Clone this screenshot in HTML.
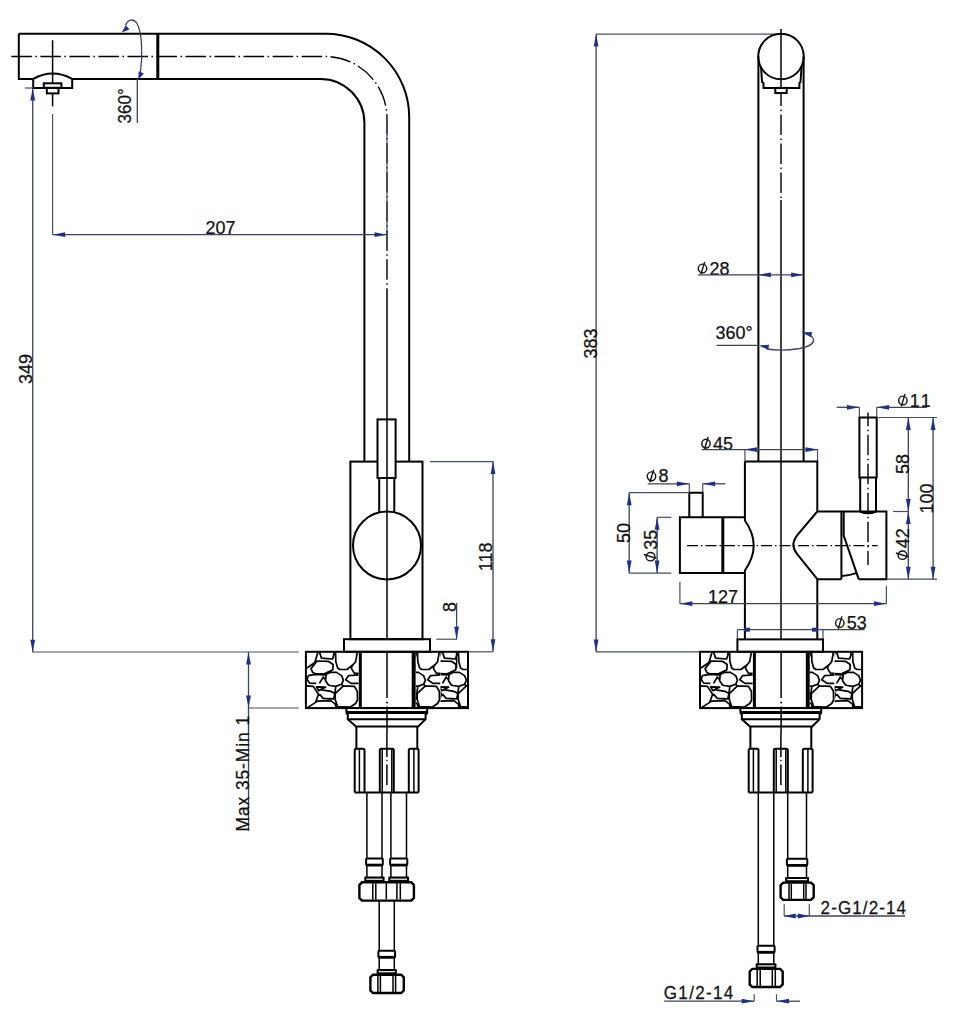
<!DOCTYPE html>
<html><head><meta charset="utf-8">
<style>
html,body{margin:0;padding:0;background:#fff;width:955px;height:1031px;overflow:hidden}
svg{display:block}
.k{stroke:#000;stroke-width:2;fill:none}
.k1{stroke:#000;stroke-width:1.5;fill:none}
.kt{stroke:#000;stroke-width:3;fill:none}
.c{stroke:#000;stroke-width:1.4;fill:none;stroke-dasharray:20.5 3.5 1.5 3.53}
.cs{stroke:#000;stroke-width:1.4;fill:none;stroke-dasharray:11 3 1.5 3}
.d{stroke:#3c435e;stroke-width:1.3;fill:none}
.e{stroke:#454f66;stroke-width:1.2;fill:none}
.ah{fill:#1f3088;stroke:none}
.st{stroke:#000;stroke-width:1.7;fill:none;stroke-linejoin:round}
.t{font-family:"Liberation Sans",sans-serif;fill:#111;stroke:#111;stroke-width:0.25}
.ph{stroke:#111;stroke-width:1.4;fill:none}
</style></head><body>
<svg width="955" height="1031" viewBox="0 0 955 1031">

<path class="k" d="M18.8,33.7 L325.4,33.7 A83.6,83.6 0 0 1 409.2,117.3 L409.2,461.6"/>
<path class="k" d="M72.2,78.9 L320.4,78.9 A44,44 0 0 1 364.4,122.9 L364.4,461.6"/>
<path class="k" d="M18.8,33.7 L18.8,78.9 L33.2,78.9"/>
<line class="kt" x1="157.8" y1="33.7" x2="157.8" y2="78.9"/>
<path class="c" style="stroke-dashoffset:-0.85" d="M10.5,56.5 L325,56.5 A62,62 0 0 1 387,118.5 L387,290"/>
<line class="k1" x1="387" y1="290" x2="387" y2="639"/>
<path class="k" d="M33.2,78.9 Q52.6,68.1 72.2,78.9 L72.2,87.9 L33.2,87.9 Z"/>
<rect class="k" x="43.8" y="83.3" width="17.6" height="4.6"/>
<rect class="k" x="46.8" y="87.9" width="11.7" height="5.5"/>
<line class="k1" x1="52.6" y1="40.2" x2="52.6" y2="83.3"/>
<line class="k1" x1="52.6" y1="93.4" x2="52.6" y2="106.5"/>
<line class="e" x1="52.6" y1="113.9" x2="52.6" y2="234.7"/>
<line class="e" x1="387" y1="125" x2="387" y2="234.7"/>
<path class="d" d="M125.5,25.5 C127.5,20 133,17.5 137,23.5 C142,32 143,55 140.3,74"/>
<path class="ah" d="M121.60,32.50 L125.86,25.17 L129.50,29.43 Z"/>
<path class="ah" d="M138.20,79.80 L138.72,71.34 L143.88,73.51 Z"/>
<line class="d" x1="137.3" y1="79" x2="137.3" y2="123"/>
<text class="t" transform="translate(131,123.5) rotate(-90) scale(0.92,1)" font-size="18.5">360°</text>
<line class="d" x1="52.6" y1="234.7" x2="387" y2="234.7"/>
<path class="ah" d="M52.60,234.70 L65.10,232.30 L65.10,237.10 Z"/>
<path class="ah" d="M387.00,234.70 L374.50,237.10 L374.50,232.30 Z"/>
<text class="t" transform="translate(205.5,234) scale(0.97,1)" font-size="18.5">207</text>
<line class="e" x1="25" y1="88" x2="33" y2="88"/>
<line class="d" x1="32.7" y1="88" x2="32.7" y2="652.3"/>
<path class="ah" d="M32.70,88.00 L35.10,100.50 L30.30,100.50 Z"/>
<path class="ah" d="M32.70,652.30 L30.30,639.80 L35.10,639.80 Z"/>
<text class="t" transform="translate(32,384) rotate(-90) scale(0.97,1)" font-size="18.5">349</text>
<line class="e" x1="32.7" y1="652" x2="298.8" y2="652"/>
<rect class="k" x="350.4" y="461.6" width="72.1" height="177.6"/>
<rect class="k" style="fill:#fff" x="377.5" y="419.4" width="18.1" height="58.6"/>
<line class="k1" x1="387" y1="419.4" x2="387" y2="478"/>
<path class="k" d="M379.2,478 L379.2,512.5 M394.3,478 L394.3,512.5"/>
<circle class="k" cx="387" cy="545.5" r="34"/>
<rect class="k" x="344" y="639.2" width="86" height="12.6"/>
<line class="e" x1="430" y1="461.6" x2="493.5" y2="461.6"/>
<line class="d" x1="493" y1="461.6" x2="493" y2="651.8"/>
<path class="ah" d="M493.00,461.60 L495.40,474.10 L490.60,474.10 Z"/>
<path class="ah" d="M493.00,651.80 L490.60,639.30 L495.40,639.30 Z"/>
<text class="t" transform="translate(492.3,571.2) rotate(-90) scale(0.97,1)" font-size="18.5">118</text>
<line class="e" x1="468" y1="651.8" x2="493" y2="651.8"/>
<line class="e" x1="436.3" y1="639.2" x2="457" y2="639.2"/>
<line class="d" x1="456.6" y1="603" x2="456.6" y2="639.2"/>
<path class="ah" d="M456.60,639.20 L454.20,626.70 L459.00,626.70 Z"/>
<text class="t" transform="translate(456,612) rotate(-90) scale(0.97,1)" font-size="18.5">8</text>
<line class="k1" x1="456.6" y1="652" x2="456.6" y2="668"/>
<line class="e" x1="248.9" y1="708" x2="298.8" y2="708"/>
<line class="d" x1="248.5" y1="652" x2="248.5" y2="830.7"/>
<path class="ah" d="M248.50,652.00 L250.90,664.50 L246.10,664.50 Z"/>
<path class="ah" d="M248.50,708.00 L246.10,695.50 L250.90,695.50 Z"/>
<text class="t" transform="translate(249,831.5) rotate(-90) scale(0.94,1)" font-size="18.5" letter-spacing="1.0">Max 35-Min 1</text>
<defs><clipPath id="sc0"><rect x="306" y="652" width="53" height="56"/></clipPath><clipPath id="sc1"><rect x="333.6" y="652" width="24.9" height="56"/></clipPath><clipPath id="sc2"><rect x="317.5" y="652" width="27.5" height="56"/></clipPath></defs>
<g transform="translate(0,0)"><rect class="k" x="305.9" y="651.8" width="162.1" height="56.3"/><g clip-path="url(#sc0)"><path class="st" d="M318,652 L314.8,662.5 L306.9,668 M319.4,652 L321.5,658.1 L332.5,659 L333.7,655.2 L334,652 M311,668.6 L317.1,661 L328.4,661.3 L333.1,664.5 L332.8,669.8 L323.8,673.9 L315,673.6 L312.7,672.4 Z M335.5,652 L335.8,661.6 L337.6,668 L339.9,669.5 L346.9,669.5 L353.3,664.5 L355.6,661.6 L357.3,652 M352.1,665.7 L351.5,668.6 L354.4,673.3 L358.5,673.3 M308.1,675.6 L315.6,674.4 L323.8,675 L326.7,674.4 M323.2,677.3 L319.4,683.4 M322.6,676.5 L325.5,679.7 M308.1,675.6 L307.2,679.7 L309.8,683.2 L316.2,683.4 M326.1,674.4 L330,672.4 L336.4,672.4 L341.6,675.6 L343.4,680.2 L341.6,684.3 L335.8,686.4 L330,685.5 L328.4,684.9 L325.5,680.8 Z M358.5,675 L348.6,675.6 L345.7,679.7 L350.9,683.4 L358.5,683.4 M306.3,685.8 L313.3,686.4 L318.5,694.2 L315.6,702.4 L307.5,707.6 M316.5,686.9 L325.5,687.2 L320.6,689.6 L318.8,690.7 Z M320.6,689.6 L330.8,691.3 L334.8,693.6 L333.7,698.9 L323.2,698.3 L319.4,694.2 M315.6,702.4 L317.4,701.2 L330.8,700.6 L335.4,704.1 L336,708 M335.2,693.6 L343.4,685.8 L354.4,686.4 L357.3,691.3 L357.5,700 L355.6,703.5 L350.4,707 L337.6,706.7 L335.2,699.4 Z M341.6,684.3 L343.4,685.8 M335.8,686.4 L334.8,693.6"/></g><g transform="translate(82,0)"><g clip-path="url(#sc1)"><path class="st" d="M318,652 L314.8,662.5 L306.9,668 M319.4,652 L321.5,658.1 L332.5,659 L333.7,655.2 L334,652 M311,668.6 L317.1,661 L328.4,661.3 L333.1,664.5 L332.8,669.8 L323.8,673.9 L315,673.6 L312.7,672.4 Z M335.5,652 L335.8,661.6 L337.6,668 L339.9,669.5 L346.9,669.5 L353.3,664.5 L355.6,661.6 L357.3,652 M352.1,665.7 L351.5,668.6 L354.4,673.3 L358.5,673.3 M308.1,675.6 L315.6,674.4 L323.8,675 L326.7,674.4 M323.2,677.3 L319.4,683.4 M322.6,676.5 L325.5,679.7 M308.1,675.6 L307.2,679.7 L309.8,683.2 L316.2,683.4 M326.1,674.4 L330,672.4 L336.4,672.4 L341.6,675.6 L343.4,680.2 L341.6,684.3 L335.8,686.4 L330,685.5 L328.4,684.9 L325.5,680.8 Z M358.5,675 L348.6,675.6 L345.7,679.7 L350.9,683.4 L358.5,683.4 M306.3,685.8 L313.3,686.4 L318.5,694.2 L315.6,702.4 L307.5,707.6 M316.5,686.9 L325.5,687.2 L320.6,689.6 L318.8,690.7 Z M320.6,689.6 L330.8,691.3 L334.8,693.6 L333.7,698.9 L323.2,698.3 L319.4,694.2 M315.6,702.4 L317.4,701.2 L330.8,700.6 L335.4,704.1 L336,708 M335.2,693.6 L343.4,685.8 L354.4,686.4 L357.3,691.3 L357.5,700 L355.6,703.5 L350.4,707 L337.6,706.7 L335.2,699.4 Z M341.6,684.3 L343.4,685.8 M335.8,686.4 L334.8,693.6"/></g></g><g transform="translate(123,0)"><g clip-path="url(#sc2)"><path class="st" d="M318,652 L314.8,662.5 L306.9,668 M319.4,652 L321.5,658.1 L332.5,659 L333.7,655.2 L334,652 M311,668.6 L317.1,661 L328.4,661.3 L333.1,664.5 L332.8,669.8 L323.8,673.9 L315,673.6 L312.7,672.4 Z M335.5,652 L335.8,661.6 L337.6,668 L339.9,669.5 L346.9,669.5 L353.3,664.5 L355.6,661.6 L357.3,652 M352.1,665.7 L351.5,668.6 L354.4,673.3 L358.5,673.3 M308.1,675.6 L315.6,674.4 L323.8,675 L326.7,674.4 M323.2,677.3 L319.4,683.4 M322.6,676.5 L325.5,679.7 M308.1,675.6 L307.2,679.7 L309.8,683.2 L316.2,683.4 M326.1,674.4 L330,672.4 L336.4,672.4 L341.6,675.6 L343.4,680.2 L341.6,684.3 L335.8,686.4 L330,685.5 L328.4,684.9 L325.5,680.8 Z M358.5,675 L348.6,675.6 L345.7,679.7 L350.9,683.4 L358.5,683.4 M306.3,685.8 L313.3,686.4 L318.5,694.2 L315.6,702.4 L307.5,707.6 M316.5,686.9 L325.5,687.2 L320.6,689.6 L318.8,690.7 Z M320.6,689.6 L330.8,691.3 L334.8,693.6 L333.7,698.9 L323.2,698.3 L319.4,694.2 M315.6,702.4 L317.4,701.2 L330.8,700.6 L335.4,704.1 L336,708 M335.2,693.6 L343.4,685.8 L354.4,686.4 L357.3,691.3 L357.5,700 L355.6,703.5 L350.4,707 L337.6,706.7 L335.2,699.4 Z M341.6,684.3 L343.4,685.8 M335.8,686.4 L334.8,693.6"/></g></g><rect x="358.8" y="651.8" width="3" height="56.3" fill="#000"/><rect x="411.7" y="651.8" width="3.9" height="56.3" fill="#000"/><line class="k1" x1="387" y1="651.8" x2="387" y2="698"/><circle cx="387" cy="702.5" r="0.9" fill="#000"/><line class="k1" x1="387" y1="706.6" x2="387" y2="733"/></g>
<g transform="translate(0,0)"><path class="k" d="M346.4,708.1 L427.2,708.1 L427.2,712.5 Q427.2,714 425.6,714 L425.6,719.2 L418.2,726.5 L356,726.5 L347.8,719.2 L347.8,714 Q346.4,714 346.4,712.5 Z"/><path class="kt" d="M346.4,712.5 L427.2,712.5"/><path class="k" d="M347.8,719.2 L425.6,719.2"/><path class="k" d="M356.4,726.5 L356.4,748.8 M417.3,726.5 L417.3,748.8"/><path class="k" d="M354.7,792.4 L418.6,792.4"/><path class="k" d="M354.7,792.4 L354.7,750.3 Q354.7,748.8 356.2,748.8 L363.0,748.8 Q364.5,748.8 364.5,750.3 L364.5,792.4"/><line class="k1" x1="359.4" y1="748.8" x2="359.4" y2="792.4"/><path class="k" d="M379.8,792.4 L379.8,750.3 Q379.8,748.8 381.3,748.8 L392.3,748.8 Q393.8,748.8 393.8,750.3 L393.8,792.4"/><line class="k1" x1="382.2" y1="748.8" x2="382.2" y2="792.4"/><line class="k1" x1="391.8" y1="748.8" x2="391.8" y2="792.4"/><path class="k" d="M408.8,792.4 L408.8,750.3 Q408.8,748.8 410.3,748.8 L417.1,748.8 Q418.6,748.8 418.6,750.3 L418.6,792.4"/><line class="k1" x1="413.9" y1="748.8" x2="413.9" y2="792.4"/><line class="k1" x1="386.9" y1="733" x2="386.9" y2="757"/><circle cx="386.9" cy="760.5" r="0.8" fill="#000"/><line class="k1" x1="386.9" y1="764.5" x2="386.9" y2="785"/></g>
<path class="k1" d="M366.9,793 L366.9,858.5 M382,793 L382,858.5"/><rect class="k" x="366.09999999999997" y="858.5" width="16.700000000000024" height="6.8" rx="1"/><rect x="366.09999999999997" y="863.7" width="16.700000000000024" height="2.6" fill="#000"/><path class="k1" d="M366.9,865.3 L366.9,877.2 M382,865.3 L382,877.2"/><rect x="364.29999999999995" y="876.6" width="20.300000000000022" height="5.2" rx="1" fill="#000"/><rect x="366.4" y="878.6" width="16.100000000000023" height="1.2" fill="#fff"/>
<path class="k1" d="M390.9,793 L390.9,858.5 M406.5,793 L406.5,858.5"/><rect class="k" x="390.09999999999997" y="858.5" width="17.200000000000024" height="6.8" rx="1"/><rect x="390.09999999999997" y="863.7" width="17.200000000000024" height="2.6" fill="#000"/><path class="k1" d="M390.9,865.3 L390.9,877.2 M406.5,865.3 L406.5,877.2"/><rect x="388.29999999999995" y="876.6" width="20.800000000000022" height="5.2" rx="1" fill="#000"/><rect x="390.4" y="878.6" width="16.600000000000023" height="1.2" fill="#fff"/>
<path class="k" style="stroke-width:2.4" d="M362.0,882.3 L411.29999999999995,882.3 L413.9,884.9 L413.9,898.0 L411.29999999999995,900.6 L362.0,900.6 L359.4,898.0 L359.4,884.9 Z"/><line class="k1" x1="372.8" y1="883.3" x2="372.8" y2="899.6"/><line class="k1" x1="375.8" y1="883.3" x2="375.8" y2="899.6"/><line class="k1" x1="386.3" y1="883.3" x2="386.3" y2="899.6"/><line class="k1" x1="396.9" y1="883.3" x2="396.9" y2="899.6"/><line class="k1" x1="400.3" y1="883.3" x2="400.3" y2="899.6"/>
<path class="k1" d="M379.2,900.9 L379.2,950.7 M394.3,900.9 L394.3,950.7"/><rect class="k" x="378.4" y="950.7" width="16.700000000000024" height="6.8" rx="1"/><rect x="378.4" y="955.9000000000001" width="16.700000000000024" height="2.6" fill="#000"/><path class="k1" d="M379.2,957.5 L379.2,969.7 M394.3,957.5 L394.3,969.7"/><rect x="376.59999999999997" y="969.1" width="20.300000000000022" height="5.2" rx="1" fill="#000"/><rect x="378.7" y="971.1" width="16.100000000000023" height="1.2" fill="#fff"/>
<path class="k" style="stroke-width:2.4" d="M373.0,974.7 L401.2,974.7 L403.8,977.3000000000001 L403.8,990.4 L401.2,993 L373.0,993 L370.4,990.4 L370.4,977.3000000000001 Z"/><line class="k1" x1="377.9" y1="975.7" x2="377.9" y2="992"/><line class="k1" x1="380.4" y1="975.7" x2="380.4" y2="992"/><line class="k1" x1="393" y1="975.7" x2="393" y2="992"/><line class="k1" x1="395.6" y1="975.7" x2="395.6" y2="992"/>
<line class="e" x1="596" y1="34.1" x2="776" y2="34.1"/>
<line class="d" x1="596.1" y1="34.1" x2="596.1" y2="651.9"/>
<path class="ah" d="M596.10,34.10 L598.50,46.60 L593.70,46.60 Z"/>
<path class="ah" d="M596.10,651.90 L593.70,639.40 L598.50,639.40 Z"/>
<text class="t" transform="translate(597,358.5) rotate(-90) scale(0.97,1)" font-size="18.5">383</text>
<line class="e" x1="596" y1="651.9" x2="700" y2="651.9"/>
<circle class="k" cx="781" cy="56.5" r="22.75"/>
<path class="k" d="M758.4,56.5 L758.4,461.4 M803.6,56.5 L803.6,461.4"/>
<path class="k" d="M761,66 L762,82 L763.5,83 L763.5,87.9 L799.4,87.9 L799.4,83 L800.5,82 L801.6,66"/>
<rect class="k" x="775.3" y="87.9" width="11.4" height="5.1"/>
<line class="k1" x1="781" y1="29" x2="781" y2="88"/>
<path class="c" style="stroke-dashoffset:7.5" d="M781,93 L781,200"/>
<line class="k1" x1="781" y1="200" x2="781" y2="639.4"/>
<g transform="translate(698.2,274.5)"><ellipse class="ph" cx="4.3" cy="-6.0" rx="4.2" ry="4.4"/><line class="ph" x1="2.7" y1="-0.1" x2="6.5" y2="-12.6"/><text class="t" transform="translate(11.2,0) scale(0.97,1)" font-size="18.5">28</text></g>
<line class="d" x1="698" y1="274.8" x2="803.6" y2="274.8"/>
<path class="ah" d="M758.40,274.80 L770.90,272.40 L770.90,277.20 Z"/>
<path class="ah" d="M803.60,274.80 L791.10,277.20 L791.10,272.40 Z"/>
<text class="t" transform="translate(715.5,338.5) scale(0.97,1)" font-size="18.5">360°</text>
<line class="d" x1="716.5" y1="345.3" x2="758.4" y2="345.3"/>
<path class="d" d="M767,349 Q781,351.5 800,348.5 Q814,345.5 813.5,340 Q813,336.5 809,334.5"/>
<path class="ah" d="M758.80,345.50 L769.10,344.71 L768.18,349.83 Z"/>
<path class="ah" d="M801.90,332.20 L812.23,332.10 L810.97,337.15 Z"/>
<g transform="translate(701.7,449.6)"><ellipse class="ph" cx="4.3" cy="-6.0" rx="4.2" ry="4.4"/><line class="ph" x1="2.7" y1="-0.1" x2="6.5" y2="-12.6"/><text class="t" transform="translate(11.2,0) scale(0.97,1)" font-size="18.5">45</text></g>
<line class="d" x1="701.7" y1="449.6" x2="818" y2="449.6"/>
<line class="e" x1="744.9" y1="449.6" x2="744.9" y2="461.4"/>
<line class="e" x1="817.5" y1="449.6" x2="817.5" y2="461.4"/>
<path class="ah" d="M744.40,449.60 L756.90,447.20 L756.90,452.00 Z"/>
<path class="ah" d="M818.00,449.60 L805.50,452.00 L805.50,447.20 Z"/>
<path class="k" d="M744.9,461.4 L817.3,461.4 L817.3,511.5 M744.9,461.4 L744.9,517.3 M744.9,573.1 L744.9,639.4 M817.3,579.2 L817.3,639.4"/>
<path class="k" d="M744.9,517.3 L679.9,517.3 L679.9,573.1 L744.9,573.1"/>
<line class="kt" x1="722.8" y1="517.3" x2="722.8" y2="573.1"/>
<path class="k" d="M744.9,517.3 L744.9,520.5 C749.5,527 753.7,536 753.7,545.6 C753.7,555 749.5,564 744.9,570.5 L744.9,573.1"/>
<path class="k" d="M689.3,517.3 L689.3,492.7 L702.7,492.7 L702.7,517.3"/>
<line class="cs" x1="687" y1="545.6" x2="877.7" y2="545.6"/>
<g transform="translate(647.2,482.3)"><ellipse class="ph" cx="4.3" cy="-6.0" rx="4.2" ry="4.4"/><line class="ph" x1="2.7" y1="-0.1" x2="6.5" y2="-12.6"/><text class="t" transform="translate(11.2,0) scale(0.97,1)" font-size="18.5">8</text></g>
<line class="d" x1="647.7" y1="483.8" x2="689.3" y2="483.8"/>
<line class="d" x1="702.7" y1="483.8" x2="725.4" y2="483.8"/>
<path class="ah" d="M689.30,483.80 L676.80,486.20 L676.80,481.40 Z"/>
<path class="ah" d="M702.70,483.80 L715.20,481.40 L715.20,486.20 Z"/>
<line class="e" x1="689.3" y1="483.8" x2="689.3" y2="492"/>
<line class="e" x1="702.7" y1="483.8" x2="702.7" y2="492"/>
<line class="e" x1="629" y1="492.7" x2="689" y2="492.7"/>
<line class="e" x1="629" y1="573.1" x2="671.3" y2="573.1"/>
<line class="d" x1="629.2" y1="492.7" x2="629.2" y2="573.1"/>
<path class="ah" d="M629.20,492.70 L631.60,505.20 L626.80,505.20 Z"/>
<path class="ah" d="M629.20,573.10 L626.80,560.60 L631.60,560.60 Z"/>
<text class="t" transform="translate(630,543) rotate(-90) scale(0.97,1)" font-size="18.5">50</text>
<line class="e" x1="657" y1="517.3" x2="671.3" y2="517.3"/>
<line class="d" x1="657.1" y1="517.3" x2="657.1" y2="573.1"/>
<path class="ah" d="M657.10,517.30 L659.50,529.80 L654.70,529.80 Z"/>
<path class="ah" d="M657.10,573.10 L654.70,560.60 L659.50,560.60 Z"/>
<g transform="translate(656.5,561) rotate(-90)"><ellipse class="ph" cx="4.3" cy="-6.0" rx="4.2" ry="4.4"/><line class="ph" x1="2.7" y1="-0.1" x2="6.5" y2="-12.6"/><text class="t" transform="translate(11.2,0) scale(0.97,1)" font-size="18.5">35</text></g>
<path class="k" d="M817.3,511.5 L886.4,511.5 L886.4,579.2 L858.7,579.2 M841.4,579.2 L817.3,579.2"/>
<path class="k" d="M817.3,511.5 L797.7,534.6 Q793.3,540 793.3,545.5 Q794,551 800,557.6 L817.3,579.2"/>
<line class="k" x1="841.4" y1="511.5" x2="841.4" y2="579.2"/>
<path class="k" d="M843.7,511.5 L843.7,535.7 L858.7,579.2"/>
<path class="k" d="M841.4,576 Q849,575.5 856.2,573.1"/>
<rect class="k" x="859.4" y="417.5" width="17.3" height="60"/>
<path class="k" d="M860.2,477.5 L860.2,511.5 Q868,515 876,511.5 L876,477.5"/>
<path class="c" style="stroke-dashoffset:6.65" d="M868,412.4 L868,565"/>
<g transform="translate(898.6,406.5)"><ellipse class="ph" cx="4.3" cy="-6.0" rx="4.2" ry="4.4"/><line class="ph" x1="2.7" y1="-0.1" x2="6.5" y2="-12.6"/><text class="t" transform="translate(11.2,0) scale(0.97,1)" font-size="18.5" letter-spacing="2.5">11</text></g>
<line class="d" x1="836.6" y1="407.3" x2="859.4" y2="407.3"/>
<line class="d" x1="876.7" y1="407.3" x2="927" y2="407.3"/>
<path class="ah" d="M859.40,407.30 L846.90,409.70 L846.90,404.90 Z"/>
<path class="ah" d="M876.70,407.30 L889.20,404.90 L889.20,409.70 Z"/>
<line class="e" x1="859.4" y1="407.3" x2="859.4" y2="417"/>
<line class="e" x1="876.7" y1="407.3" x2="876.7" y2="417"/>
<line class="e" x1="876.7" y1="417.5" x2="937" y2="417.5"/>
<line class="e" x1="893" y1="511.5" x2="908.3" y2="511.5"/>
<line class="e" x1="886.4" y1="579.2" x2="937" y2="579.2"/>
<line class="d" x1="908.3" y1="417.5" x2="908.3" y2="579.2"/>
<path class="ah" d="M908.30,417.50 L910.70,430.00 L905.90,430.00 Z"/>
<path class="ah" d="M908.30,511.50 L905.90,499.00 L910.70,499.00 Z"/>
<path class="ah" d="M908.30,511.50 L910.70,524.00 L905.90,524.00 Z"/>
<path class="ah" d="M908.30,579.20 L905.90,566.70 L910.70,566.70 Z"/>
<line class="d" x1="933.1" y1="417.5" x2="933.1" y2="579.2"/>
<path class="ah" d="M933.10,417.50 L935.50,430.00 L930.70,430.00 Z"/>
<path class="ah" d="M933.10,579.20 L930.70,566.70 L935.50,566.70 Z"/>
<text class="t" transform="translate(909.3,474) rotate(-90) scale(0.97,1)" font-size="18.5">58</text>
<text class="t" transform="translate(933,513.5) rotate(-90) scale(0.97,1)" font-size="18.5">100</text>
<g transform="translate(908.5,559.5) rotate(-90)"><ellipse class="ph" cx="4.3" cy="-6.0" rx="4.2" ry="4.4"/><line class="ph" x1="2.7" y1="-0.1" x2="6.5" y2="-12.6"/><text class="t" transform="translate(11.2,0) scale(0.97,1)" font-size="18.5">42</text></g>
<line class="e" x1="679.9" y1="581.7" x2="679.9" y2="603.7"/>
<line class="e" x1="886.4" y1="585.8" x2="886.4" y2="603.7"/>
<line class="d" x1="679.9" y1="603.7" x2="886.4" y2="603.7"/>
<path class="ah" d="M679.90,603.70 L692.40,601.30 L692.40,606.10 Z"/>
<path class="ah" d="M886.40,603.70 L873.90,606.10 L873.90,601.30 Z"/>
<text class="t" transform="translate(708,602.5) scale(0.97,1)" font-size="18.5">127</text>
<line class="d" x1="737.4" y1="629.7" x2="864.6" y2="629.7"/>
<line class="e" x1="737.4" y1="629.7" x2="737.4" y2="639.4"/>
<line class="e" x1="823" y1="629.7" x2="823" y2="639.4"/>
<rect x="743.9" y="627.7" width="6" height="4" fill="#1f3088"/>
<rect x="812" y="627.7" width="6" height="4" fill="#1f3088"/>
<g transform="translate(835.5,629)"><ellipse class="ph" cx="4.3" cy="-6.0" rx="4.2" ry="4.4"/><line class="ph" x1="2.7" y1="-0.1" x2="6.5" y2="-12.6"/><text class="t" transform="translate(11.2,0) scale(0.97,1)" font-size="18.5">53</text></g>
<rect class="k" x="737.4" y="639.4" width="85.6" height="12.4"/>
<g transform="translate(394.1,0)"><rect class="k" x="305.9" y="651.8" width="162.1" height="56.3"/><g clip-path="url(#sc0)"><path class="st" d="M318,652 L314.8,662.5 L306.9,668 M319.4,652 L321.5,658.1 L332.5,659 L333.7,655.2 L334,652 M311,668.6 L317.1,661 L328.4,661.3 L333.1,664.5 L332.8,669.8 L323.8,673.9 L315,673.6 L312.7,672.4 Z M335.5,652 L335.8,661.6 L337.6,668 L339.9,669.5 L346.9,669.5 L353.3,664.5 L355.6,661.6 L357.3,652 M352.1,665.7 L351.5,668.6 L354.4,673.3 L358.5,673.3 M308.1,675.6 L315.6,674.4 L323.8,675 L326.7,674.4 M323.2,677.3 L319.4,683.4 M322.6,676.5 L325.5,679.7 M308.1,675.6 L307.2,679.7 L309.8,683.2 L316.2,683.4 M326.1,674.4 L330,672.4 L336.4,672.4 L341.6,675.6 L343.4,680.2 L341.6,684.3 L335.8,686.4 L330,685.5 L328.4,684.9 L325.5,680.8 Z M358.5,675 L348.6,675.6 L345.7,679.7 L350.9,683.4 L358.5,683.4 M306.3,685.8 L313.3,686.4 L318.5,694.2 L315.6,702.4 L307.5,707.6 M316.5,686.9 L325.5,687.2 L320.6,689.6 L318.8,690.7 Z M320.6,689.6 L330.8,691.3 L334.8,693.6 L333.7,698.9 L323.2,698.3 L319.4,694.2 M315.6,702.4 L317.4,701.2 L330.8,700.6 L335.4,704.1 L336,708 M335.2,693.6 L343.4,685.8 L354.4,686.4 L357.3,691.3 L357.5,700 L355.6,703.5 L350.4,707 L337.6,706.7 L335.2,699.4 Z M341.6,684.3 L343.4,685.8 M335.8,686.4 L334.8,693.6"/></g><g transform="translate(82,0)"><g clip-path="url(#sc1)"><path class="st" d="M318,652 L314.8,662.5 L306.9,668 M319.4,652 L321.5,658.1 L332.5,659 L333.7,655.2 L334,652 M311,668.6 L317.1,661 L328.4,661.3 L333.1,664.5 L332.8,669.8 L323.8,673.9 L315,673.6 L312.7,672.4 Z M335.5,652 L335.8,661.6 L337.6,668 L339.9,669.5 L346.9,669.5 L353.3,664.5 L355.6,661.6 L357.3,652 M352.1,665.7 L351.5,668.6 L354.4,673.3 L358.5,673.3 M308.1,675.6 L315.6,674.4 L323.8,675 L326.7,674.4 M323.2,677.3 L319.4,683.4 M322.6,676.5 L325.5,679.7 M308.1,675.6 L307.2,679.7 L309.8,683.2 L316.2,683.4 M326.1,674.4 L330,672.4 L336.4,672.4 L341.6,675.6 L343.4,680.2 L341.6,684.3 L335.8,686.4 L330,685.5 L328.4,684.9 L325.5,680.8 Z M358.5,675 L348.6,675.6 L345.7,679.7 L350.9,683.4 L358.5,683.4 M306.3,685.8 L313.3,686.4 L318.5,694.2 L315.6,702.4 L307.5,707.6 M316.5,686.9 L325.5,687.2 L320.6,689.6 L318.8,690.7 Z M320.6,689.6 L330.8,691.3 L334.8,693.6 L333.7,698.9 L323.2,698.3 L319.4,694.2 M315.6,702.4 L317.4,701.2 L330.8,700.6 L335.4,704.1 L336,708 M335.2,693.6 L343.4,685.8 L354.4,686.4 L357.3,691.3 L357.5,700 L355.6,703.5 L350.4,707 L337.6,706.7 L335.2,699.4 Z M341.6,684.3 L343.4,685.8 M335.8,686.4 L334.8,693.6"/></g></g><g transform="translate(123,0)"><g clip-path="url(#sc2)"><path class="st" d="M318,652 L314.8,662.5 L306.9,668 M319.4,652 L321.5,658.1 L332.5,659 L333.7,655.2 L334,652 M311,668.6 L317.1,661 L328.4,661.3 L333.1,664.5 L332.8,669.8 L323.8,673.9 L315,673.6 L312.7,672.4 Z M335.5,652 L335.8,661.6 L337.6,668 L339.9,669.5 L346.9,669.5 L353.3,664.5 L355.6,661.6 L357.3,652 M352.1,665.7 L351.5,668.6 L354.4,673.3 L358.5,673.3 M308.1,675.6 L315.6,674.4 L323.8,675 L326.7,674.4 M323.2,677.3 L319.4,683.4 M322.6,676.5 L325.5,679.7 M308.1,675.6 L307.2,679.7 L309.8,683.2 L316.2,683.4 M326.1,674.4 L330,672.4 L336.4,672.4 L341.6,675.6 L343.4,680.2 L341.6,684.3 L335.8,686.4 L330,685.5 L328.4,684.9 L325.5,680.8 Z M358.5,675 L348.6,675.6 L345.7,679.7 L350.9,683.4 L358.5,683.4 M306.3,685.8 L313.3,686.4 L318.5,694.2 L315.6,702.4 L307.5,707.6 M316.5,686.9 L325.5,687.2 L320.6,689.6 L318.8,690.7 Z M320.6,689.6 L330.8,691.3 L334.8,693.6 L333.7,698.9 L323.2,698.3 L319.4,694.2 M315.6,702.4 L317.4,701.2 L330.8,700.6 L335.4,704.1 L336,708 M335.2,693.6 L343.4,685.8 L354.4,686.4 L357.3,691.3 L357.5,700 L355.6,703.5 L350.4,707 L337.6,706.7 L335.2,699.4 Z M341.6,684.3 L343.4,685.8 M335.8,686.4 L334.8,693.6"/></g></g><rect x="358.8" y="651.8" width="3" height="56.3" fill="#000"/><rect x="411.7" y="651.8" width="3.9" height="56.3" fill="#000"/><line class="k1" x1="387" y1="651.8" x2="387" y2="698"/><circle cx="387" cy="702.5" r="0.9" fill="#000"/><line class="k1" x1="387" y1="706.6" x2="387" y2="733"/></g>
<g transform="translate(394,0)"><path class="k" d="M346.4,708.1 L427.2,708.1 L427.2,712.5 Q427.2,714 425.6,714 L425.6,719.2 L418.2,726.5 L356,726.5 L347.8,719.2 L347.8,714 Q346.4,714 346.4,712.5 Z"/><path class="kt" d="M346.4,712.5 L427.2,712.5"/><path class="k" d="M347.8,719.2 L425.6,719.2"/><path class="k" d="M356.4,726.5 L356.4,748.8 M417.3,726.5 L417.3,748.8"/><path class="k" d="M354.7,792.4 L418.6,792.4"/><path class="k" d="M354.7,792.4 L354.7,750.3 Q354.7,748.8 356.2,748.8 L363.0,748.8 Q364.5,748.8 364.5,750.3 L364.5,792.4"/><line class="k1" x1="359.4" y1="748.8" x2="359.4" y2="792.4"/><path class="k" d="M379.8,792.4 L379.8,750.3 Q379.8,748.8 381.3,748.8 L392.3,748.8 Q393.8,748.8 393.8,750.3 L393.8,792.4"/><line class="k1" x1="382.2" y1="748.8" x2="382.2" y2="792.4"/><line class="k1" x1="391.8" y1="748.8" x2="391.8" y2="792.4"/><path class="k" d="M408.8,792.4 L408.8,750.3 Q408.8,748.8 410.3,748.8 L417.1,748.8 Q418.6,748.8 418.6,750.3 L418.6,792.4"/><line class="k1" x1="413.9" y1="748.8" x2="413.9" y2="792.4"/><line class="k1" x1="386.9" y1="733" x2="386.9" y2="757"/><circle cx="386.9" cy="760.5" r="0.8" fill="#000"/><line class="k1" x1="386.9" y1="764.5" x2="386.9" y2="785"/></g>
<path class="k1" d="M758.3,793 L758.3,945.7 M773.8,793 L773.8,945.7"/><rect class="k" x="757.5" y="945.7" width="17.1" height="6.8" rx="1"/><rect x="757.5" y="950.9000000000001" width="17.1" height="2.6" fill="#000"/><path class="k1" d="M758.3,952.5 L758.3,963.9 M773.8,952.5 L773.8,963.9"/><rect x="755.6999999999999" y="963.3" width="20.7" height="5.2" rx="1" fill="#000"/><rect x="757.8" y="965.3" width="16.5" height="1.2" fill="#fff"/>
<path class="k" style="stroke-width:2.4" d="M752.3000000000001,968.9 L780.1,968.9 L782.7,971.5 L782.7,984.4 L780.1,987 L752.3000000000001,987 L749.7,984.4 L749.7,971.5 Z"/><line class="k1" x1="757.2" y1="969.9" x2="757.2" y2="986"/><line class="k1" x1="760.2" y1="969.9" x2="760.2" y2="986"/><line class="k1" x1="772.3" y1="969.9" x2="772.3" y2="986"/><line class="k1" x1="775.3" y1="969.9" x2="775.3" y2="986"/>
<path class="k1" d="M787.7,793 L787.7,858.8 M806.5,793 L806.5,858.8"/><rect class="k" x="786.9000000000001" y="858.8" width="20.399999999999956" height="6.8" rx="1"/><rect x="786.9000000000001" y="864.0" width="20.399999999999956" height="2.6" fill="#000"/><path class="k1" d="M787.7,865.5999999999999 L787.7,877.6 M806.5,865.5999999999999 L806.5,877.6"/><rect x="785.1" y="877.0" width="23.999999999999954" height="5.2" rx="1" fill="#000"/><rect x="787.2" y="879.0" width="19.799999999999955" height="1.2" fill="#fff"/>
<path class="k" style="stroke-width:2.4" d="M783.2,882.6 L811.1,882.6 L813.7,885.2 L813.7,897.3 L811.1,899.9 L783.2,899.9 L780.6,897.3 L780.6,885.2 Z"/><line class="k1" x1="789" y1="883.6" x2="789" y2="898.9"/><line class="k1" x1="791.3" y1="883.6" x2="791.3" y2="898.9"/><line class="k1" x1="803.7" y1="883.6" x2="803.7" y2="898.9"/><line class="k1" x1="806" y1="883.6" x2="806" y2="898.9"/>
<line class="e" x1="784.2" y1="904.3" x2="784.2" y2="916"/>
<line class="e" x1="809.3" y1="904.3" x2="809.3" y2="916"/>
<line class="d" x1="784.2" y1="916" x2="905" y2="916"/>
<path class="ah" d="M784.20,916.00 L795.70,913.60 L795.70,918.40 Z"/>
<path class="ah" d="M809.30,916.00 L797.80,918.40 L797.80,913.60 Z"/>
<text class="t" transform="translate(820.6,913.8) scale(0.92,1)" font-size="18.5" letter-spacing="1.2">2-G1/2-14</text>
<line class="e" x1="754.2" y1="994.2" x2="754.2" y2="1001.2"/>
<line class="e" x1="776.5" y1="994.2" x2="776.5" y2="1001.2"/>
<line class="d" x1="664.2" y1="1001.2" x2="754.2" y2="1001.2"/>
<line class="d" x1="776.5" y1="1001.2" x2="799.9" y2="1001.2"/>
<path class="ah" d="M754.20,1001.20 L741.70,1003.60 L741.70,998.80 Z"/>
<path class="ah" d="M776.50,1001.20 L789.00,998.80 L789.00,1003.60 Z"/>
<text class="t" transform="translate(663.8,998.7) scale(0.92,1)" font-size="18.5" letter-spacing="1.45">G1/2-14</text>
</svg></body></html>
